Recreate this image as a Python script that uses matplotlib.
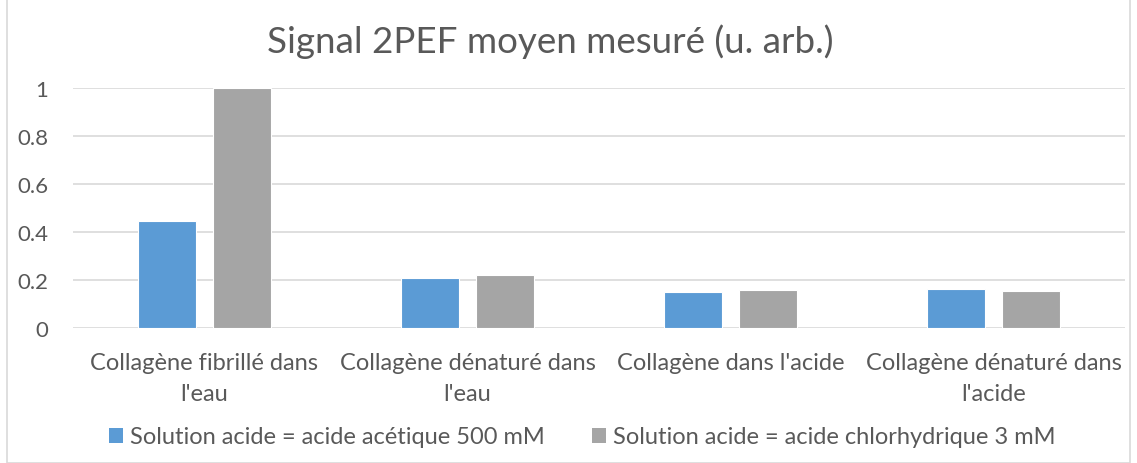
import matplotlib
matplotlib.use("Agg")
import matplotlib.pyplot as plt
from matplotlib.patches import Rectangle, Patch
import numpy as np

categories = [
    "Collagène fibrillé dans\nl'eau",
    "Collagène dénaturé dans\nl'eau",
    "Collagène dans l'acide",
    "Collagène dénaturé dans\nl'acide",
]
acetic = [0.447, 0.207, 0.149, 0.161]
hydrochloric = [1.0, 0.22, 0.157, 0.153]
series_names = [
    "Solution acide = acide acétique 500 mM",
    "Solution acide = acide chlorhydrique 3 mM",
]
yticks = [0, 0.2, 0.4, 0.6, 0.8, 1]
ytick_labels = ["0", "0.2", "0.4", "0.6", "0.8", "1"]

blue = "#5B9BD5"
gray = "#A5A5A5"
text_col = "#595959"
grid_col = "#D9D9D9"

plt.rcParams["font.family"] = ["Lato", "DejaVu Sans"]

fig = plt.figure(figsize=(11.37, 4.64), dpi=100)
ax = fig.add_axes([73 / 1137, 1 - 329 / 464, (1125 - 73) / 1137, (329 - 89) / 464])

x = np.arange(len(categories))
w = 0.22
off = 0.143
ax.bar(x - off, acetic, w, color=blue, edgecolor="white", linewidth=0.8, zorder=3)
ax.bar(x + off, hydrochloric, w, color=gray, edgecolor="white", linewidth=0.8, zorder=3)

ax.set_xlim(-0.5, len(categories) - 0.5)
ax.set_ylim(0, 1)
ax.set_yticks(yticks)
ax.set_yticklabels(ytick_labels)
ax.yaxis.grid(True, color=grid_col, linewidth=1.2, zorder=0)
ax.set_axisbelow(True)
for s in ax.spines.values():
    s.set_visible(False)
ax.tick_params(axis="y", length=0, pad=18, labelsize=16, labelcolor=text_col)
ax.tick_params(axis="x", length=0, pad=17, labelsize=17, labelcolor=text_col)
ax.set_xticks(x)
ax.set_xticklabels(categories, linespacing=1.6)

fig.text(550 / 1137, 1 - 42 / 464, "Signal 2PEF moyen mesuré (u. arb.)",
         ha="center", va="center", fontsize=26.5, color=text_col)

handles = [Patch(facecolor=blue), Patch(facecolor=gray)]
fig.legend(handles, series_names, loc="center", bbox_to_anchor=(582 / 1137, 1 - 438 / 464),
           ncol=2, frameon=False, fontsize=17, labelcolor=text_col,
           handlelength=0.6, handleheight=0.6, handletextpad=0.3, columnspacing=2.0)

fig.patches.append(Rectangle((7 / 1137, 0), 1 - 14 / 1137, 1, transform=fig.transFigure,
                             fill=False, edgecolor=grid_col, linewidth=1.2))

fig.savefig("out.png", dpi=100, facecolor="white")
